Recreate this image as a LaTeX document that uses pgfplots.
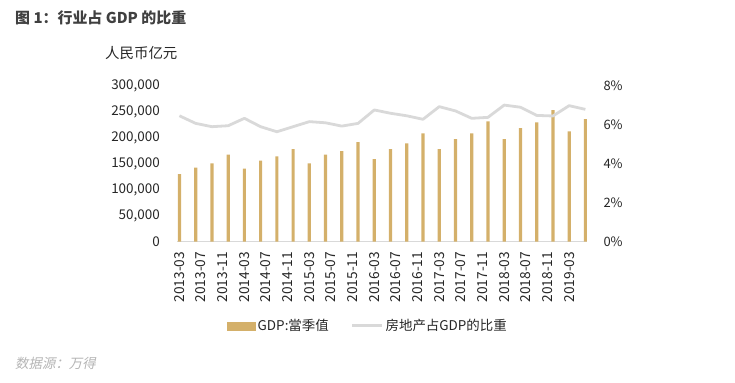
\documentclass[border=0pt]{standalone}
\usepackage{pgfplots}
\pgfplotsset{compat=1.18}
\usepackage{fontspec}
\setmainfont{Noto Sans CJK SC}
\newfontfamily\cjkit[FakeSlant=0.2]{Noto Sans CJK SC}
\definecolor{bartan}{HTML}{D4B06A}
\definecolor{linegray}{HTML}{D9D9D9}
\definecolor{titlegray}{HTML}{404040}
\definecolor{srcgray}{HTML}{B4B4B4}
\definecolor{txt}{HTML}{262626}
\pgfplotstableread{
m gdp
0 130400
3 142600
6 151000
9 168000
12 140700
15 156000
18 164500
21 178600
24 151000
27 168000
30 174700
33 192000
36 159000
39 178600
42 189500
45 208800
48 178600
51 197900
54 208800
57 231900
60 197900
63 219000
66 230000
69 253700
72 212600
75 236400
}\gdptable
\pgfplotstableread{
m pct
0 6.47
3 6.08
6 5.91
9 5.96
12 6.34
15 5.91
18 5.65
21 5.91
24 6.17
27 6.11
30 5.94
33 6.08
36 6.77
39 6.60
42 6.47
45 6.29
48 6.94
51 6.72
54 6.34
57 6.39
60 7.02
63 6.91
66 6.49
69 6.46
72 6.99
75 6.80
}\pcttable
\begin{document}
\begin{tikzpicture}[x=1bp,y=-1bp]
\path[use as bounding box] (0,0) rectangle (735,382);
\node[anchor=west,font=\fontsize{15}{18}\selectfont\bfseries,text=titlegray,inner sep=0] at (15,18) {图 1：行业占 GDP 的比重};
\node[anchor=west,font=\fontsize{14.5}{17}\selectfont,text=txt,inner sep=0] at (105,53) {人民币亿元};
\node[anchor=west,font=\cjkit\fontsize{13.5}{16}\selectfont,text=srcgray,inner sep=0] at (15,363) {数据源：万得};
\begin{axis}[
  at={(177bp,-241.7bp)}, anchor=south west,
  scale only axis, width=410bp, height=155.7bp,
  xmin=-0.45, xmax=75.3, ymin=0, ymax=300000,
  axis x line*=bottom, axis y line*=left,
  x axis line style={linegray, line width=1.5bp, -},
  y axis line style={draw=none},
  ytick={0,50000,100000,150000,200000,250000,300000},
  yticklabels={{0},{50,000},{100,000},{150,000},{200,000},{250,000},{300,000}},
  scaled y ticks=false,
  yticklabel style={font=\fontsize{13.5}{16}\selectfont, text=txt, xshift=-16bp},
  xtick={0,4,...,72}, major tick length=0,
  xticklabels={2013-03,2013-07,2013-11,2014-03,2014-07,2014-11,2015-03,2015-07,2015-11,2016-03,2016-07,2016-11,2017-03,2017-07,2017-11,2018-03,2018-07,2018-11,2019-03},
  xticklabel style={rotate=90, anchor=east, font=\fontsize{13.8}{16}\selectfont, text=txt},
  xticklabel shift=9bp,
  tick label style={inner sep=1bp},
  clip=false,
]
\addplot[ybar, bar width=3.2bp, fill=bartan, draw=none] table[x=m,y=gdp] {\gdptable};
\end{axis}
\begin{axis}[
  at={(177bp,-241.7bp)}, anchor=south west,
  scale only axis, width=410bp, height=155.7bp,
  xmin=-0.45, xmax=75.3, ymin=0, ymax=8,
  axis x line=none, axis y line*=right, y axis line style={draw=none},
  ytick={0,2,4,6,8}, major tick length=0,
  yticklabels={0\%,2\%,4\%,6\%,8\%},
  yticklabel style={font=\fontsize{13}{15}\selectfont, text=txt, anchor=west, xshift=13bp},
  legend columns=2,
  legend style={at={(0.466,-0.54)}, anchor=center, draw=none, fill=none,
    font=\fontsize{13.5}{16}\selectfont, text=txt,
    /tikz/every even column/.append style={column sep=20bp}},
  clip=false,
]
\addlegendimage{area legend, legend image code/.code={\fill[bartan] (-2bp,-4bp) rectangle (26bp,4bp);}}
\addlegendentry{GDP:當季值}
\addplot[linegray, line width=2.8bp, line join=round, legend image code/.code={\draw[linegray,line width=2.8bp] (-2bp,0) -- (28bp,0);}] table[x=m,y=pct] {\pcttable};
\addlegendentry{房地产占GDP的比重}
\end{axis}
\end{tikzpicture}
\end{document}
